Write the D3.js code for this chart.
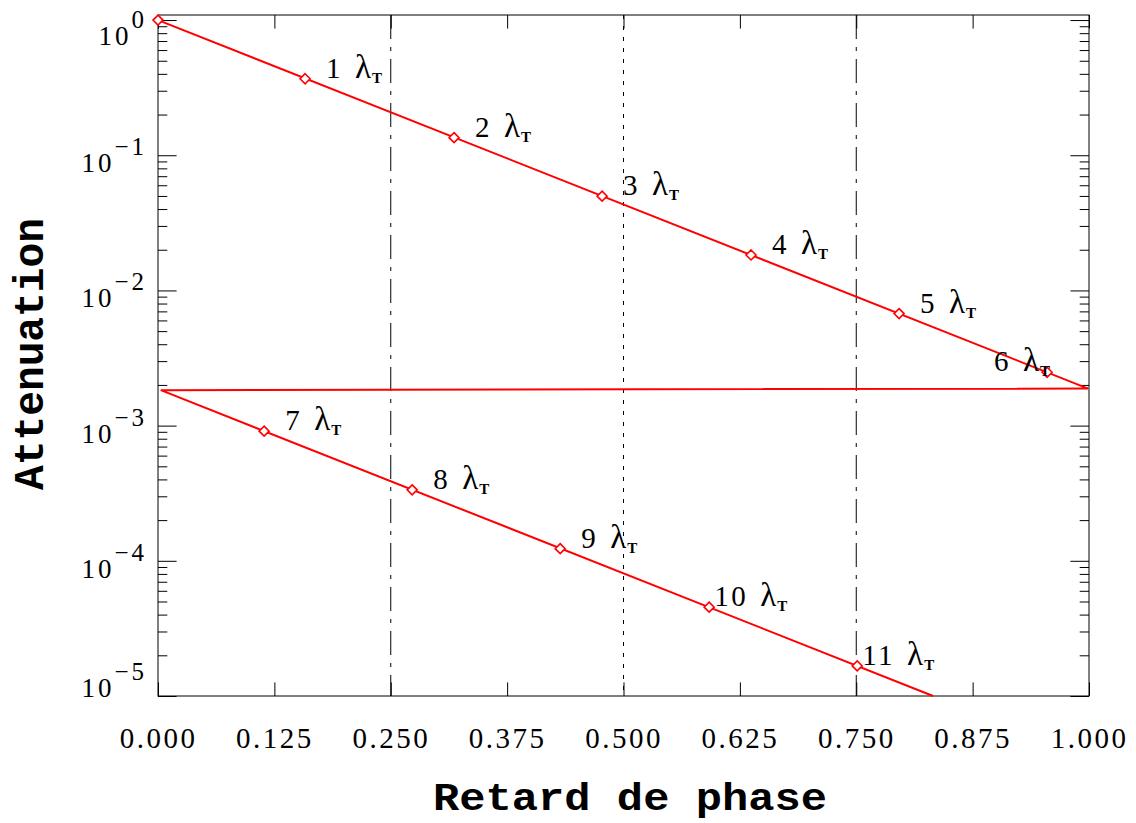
<!DOCTYPE html>
<html>
<head>
<meta charset="utf-8">
<script src="https://cdn.jsdelivr.net/npm/d3@7"></script>
<style>
  body { margin: 0; background: #fff; }
  svg { display: block; }
</style>
</head>
<body>
<svg id="chart" width="1136" height="823"></svg>
<script>
(function() {
// values

// x axis ticks (phase lag)
var phaseTicks = [0, 0.125, 0.25, 0.375, 0.5, 0.625, 0.75, 0.875, 1.0];
// y axis decades (exponents of 10)
var decadeExps = [0, -1, -2, -3, -4, -5];

// the red curve, wrapped at phase = 1
var curvePhase = [0, 0.999, 0.003, 0.8325];
var curveAtten = [1.0, 1.88e-3, 1.83e-3, 1.0e-5];

// the diamonds, n lambda_T
var markN     = [0, 1, 2, 3, 4, 5, 6, 7, 8, 9, 10, 11];
var markPhase = [0, 0.158, 0.318, 0.477, 0.637, 0.796, 0.955, 0.114, 0.273, 0.432, 0.592, 0.751];
var markAtten = [1.0, 0.368, 0.135, 0.0498, 0.0183, 0.00674, 0.00248, 9.1e-4, 3.35e-4, 1.23e-4, 4.54e-5, 1.67e-5];

// vertical guide lines
var guidePhase = [0.25, 0.5, 0.75];

var margin = {top: 15, right: 47, bottom: 127, left: 158},
    width = 1136 - margin.left - margin.right,
    height = 823 - margin.top - margin.bottom;

var svg = d3.select("#chart");
var chart = svg.append("g")
    .attr("transform", "translate(" + margin.left + "," + margin.top + ")");

var x = d3.scaleLinear().domain([0, 1]).range([0, width]);
var y = d3.scaleLog().domain([1e-5, 1.09]).range([height, 0]);

var serif = "'Liberation Serif', 'Times New Roman', serif";
var mono = "'Liberation Mono', 'Courier New', monospace";

// guide lines
var dashes = ["24,8,4,8", "4,7", "24,8,4,8"];
chart.selectAll(".guide")
  .data(guidePhase)
  .join("line")
    .attr("class", "guide")
    .attr("x1", d => x(d)).attr("x2", d => x(d))
    .attr("y1", 0).attr("y2", height)
    .attr("stroke", "#000")
    .attr("stroke-width", 1)
    .attr("stroke-dasharray", (d, i) => dashes[i]);

// x axes (bottom with labels, top mirrored)
var xBottom = chart.append("g")
    .attr("transform", "translate(0," + height + ")")
    .call(d3.axisBottom(x).tickValues(phaseTicks).tickSize(-13.6).tickSizeOuter(0)
      .tickPadding(33).tickFormat(d3.format(".3f")));
xBottom.selectAll("text")
    .attr("dy", null)
    .attr("y", 52)
    .style("font-family", serif)
    .style("font-size", "29px")
    .style("letter-spacing", "2.5px")
    .attr("fill", "#000");

chart.append("g")
    .call(d3.axisTop(x).tickValues(phaseTicks).tickSize(-13.6).tickSizeOuter(0).tickFormat(""));

// y axes: majors, minors, left and right
var majors = decadeExps.map(e => Math.pow(10, e));
var minors = [];
decadeExps.forEach(function(e) {
  for (var k = 2; k <= 9; k++) {
    var v = k * Math.pow(10, e);
    if (v <= 1.09) minors.push(v);
  }
});

chart.append("g").call(d3.axisLeft(y).tickValues(majors).tickSize(-18.6).tickSizeOuter(0).tickFormat(""));
chart.append("g").call(d3.axisLeft(y).tickValues(minors).tickSize(-9.3).tickSizeOuter(0).tickFormat(""));
chart.append("g").attr("transform", "translate(" + width + ",0)")
    .call(d3.axisRight(y).tickValues(majors).tickSize(-18.6).tickSizeOuter(0).tickFormat(""));
chart.append("g").attr("transform", "translate(" + width + ",0)")
    .call(d3.axisRight(y).tickValues(minors).tickSize(-9.3).tickSizeOuter(0).tickFormat(""));

chart.selectAll(".domain").remove();
chart.selectAll(".tick line").attr("stroke", "#000");

// y labels 10^n, centred on the tick but kept inside the axis range
function labelCentre(e) {
  return Math.max(13, Math.min(height - 16, y(Math.pow(10, e))));
}
var ylab = chart.selectAll(".ylab")
  .data(decadeExps)
  .join("text")
    .attr("class", "ylab")
    .attr("x", -11)
    .attr("y", d => labelCentre(d) + 17)
    .attr("text-anchor", "end")
    .style("font-family", serif)
    .attr("fill", "#000");
ylab.append("tspan")
    .style("font-size", "27px")
    .style("letter-spacing", "3px")
    .text("10");
ylab.append("tspan")
    .attr("dy", -17)
    .style("font-size", "25px")
    .style("letter-spacing", "3px")
    .text(d => d < 0 ? "\u2212" + (-d) : String(d));

// frame
chart.append("rect")
    .attr("width", width).attr("height", height)
    .attr("fill", "none").attr("stroke", "#000").attr("stroke-width", 1);

// red curve
var line = d3.line()
    .x((d, i) => x(curvePhase[i]))
    .y((d, i) => y(curveAtten[i]));
chart.append("path")
    .datum(curvePhase)
    .attr("d", line)
    .attr("fill", "none")
    .attr("stroke", "#ff0000")
    .attr("stroke-width", 2);

// diamonds
chart.selectAll(".mark")
  .data(markN)
  .join("path")
    .attr("class", "mark")
    .attr("d", "M0,-5L5,0L0,5L-5,0Z")
    .attr("transform", (d, i) => "translate(" + x(markPhase[i]) + "," + y(markAtten[i]) + ")")
    .attr("fill", "#fff")
    .attr("stroke", "#ff0000")
    .attr("stroke-width", 1.6);

// labels n lambda_T
var labels = chart.selectAll(".nlab")
  .data(markN.filter(n => n > 0))
  .join("text")
    .attr("class", "nlab")
    .attr("x", function(n) {
      var i = markN.indexOf(n);
      return x(markPhase[i]) + 5 + (n < 10 ? 16 : 0);
    })
    .attr("y", function(n) { return y(markAtten[markN.indexOf(n)]) - 1; })
    .style("font-family", serif)
    .attr("fill", "#000");
labels.append("tspan")
    .style("font-size", "29px")
    .style("letter-spacing", "2.5px")
    .text(n => n);
labels.append("tspan")
    .attr("dx", 12)
    .style("font-size", "33px")
    .text("\u03bb");
labels.append("tspan")
    .attr("dx", 1)
    .attr("dy", 5)
    .style("font-size", "15px")
    .style("font-weight", "bold")
    .text("T");

// keep labels inside the frame: flip to the left of the point
labels.each(function(n) {
  var el = d3.select(this);
  var bb = this.getBBox();
  if (bb.x + bb.width > width) {
    var px = x(markPhase[markN.indexOf(n)]);
    el.attr("x", +el.attr("x") - (bb.x + bb.width - (px + 3)));
  }
});

// axis titles
svg.append("text")
    .attr("x", 630)
    .attr("y", 810)
    .attr("text-anchor", "middle")
    .attr("textLength", 394)
    .attr("lengthAdjust", "spacingAndGlyphs")
    .style("font-family", mono)
    .style("font-weight", "bold")
    .style("font-size", "38px")
    .text("Retard de phase");

svg.append("text")
    .attr("transform", "translate(43,354) rotate(-90)")
    .attr("text-anchor", "middle")
    .attr("textLength", 272)
    .attr("lengthAdjust", "spacingAndGlyphs")
    .style("font-family", mono)
    .style("font-weight", "bold")
    .style("font-size", "42px")
    .text("Attenuation");

})();
</script>
</body>
</html>
